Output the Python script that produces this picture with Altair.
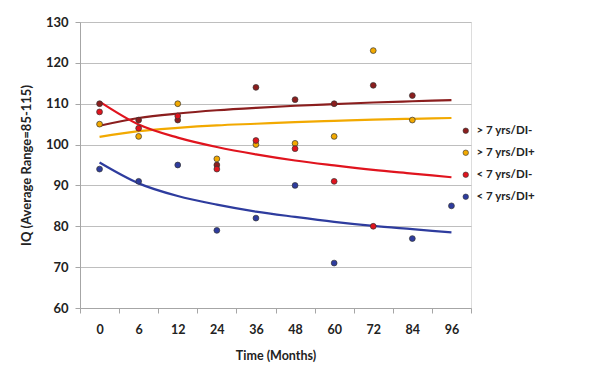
import altair as alt
import pandas as pd

months = ["0", "6", "12", "24", "36", "48", "60", "72", "84", "96"]
series_names = ["> 7 yrs/DI-", "> 7 yrs/DI+", "< 7 yrs/DI-", "< 7 yrs/DI+"]
colors = ["#8B1E1E", "#F2A900", "#E0141E", "#2E3C9E"]

# observed points (None = no point)
pts_old_neg = [110, 106, 106, 95, 114, 111, 110, 114.5, 112, None]
pts_old_pos = [105, 102, 110, 96.5, 100, 100.3, 102, 123, 106, None]
pts_young_neg = [108, 104, 107, 94, 101, 99, 91, 80, None, None]
pts_young_pos = [94, 91, 95, 79, 82, 90, 71, None, 77, 85]

# trend curves at each category
trend_old_neg = [104.6, 106.5, 107.6, 108.4, 109.0, 109.5, 109.9, 110.3, 110.6, 110.9]
trend_old_pos = [101.9, 103.3, 104.1, 104.7, 105.1, 105.5, 105.8, 106.1, 106.3, 106.5]
trend_young_neg = [110.5, 104.9, 101.7, 99.4, 97.6, 96.1, 94.9, 93.8, 92.9, 92.0]
trend_young_pos = [95.6, 90.5, 87.4, 85.3, 83.6, 82.3, 81.1, 80.1, 79.3, 78.5]

pts_all = [pts_old_neg, pts_old_pos, pts_young_neg, pts_young_pos]
trends_all = [trend_old_neg, trend_old_pos, trend_young_neg, trend_young_pos]

prow, trow = [], []
for s, name in enumerate(series_names):
    for i, m in enumerate(months):
        v = pts_all[s][i]
        if v is not None:
            prow.append({"month": m, "iq": v, "series": name, "order": s})
        trow.append({"month": m, "iq": trends_all[s][i], "trend": name})
pdf = pd.DataFrame(prow)
tdf = pd.DataFrame(trow)

FONT = "Lato"
xenc = alt.X("month:N", sort=months,
             scale=alt.Scale(paddingInner=0, paddingOuter=0),
             axis=alt.Axis(title="Time (Months)", labelAngle=0, tickBand="extent",
                           domainColor="#A6A6A6", tickColor="#A6A6A6", tickSize=5,
                           labelFont=FONT, labelFontSize=12.5, labelFontWeight="bold",
                           labelColor="#222", labelPadding=10,
                           titleFont=FONT, titleFontSize=12.5, titleFontWeight="bold",
                           titleColor="#222", titlePadding=14, grid=False))
yenc = alt.Y("iq:Q", scale=alt.Scale(domain=[60, 130], nice=False, zero=False),
             axis=alt.Axis(title="IQ (Average Range=85-115)", values=list(range(60, 131, 10)),
                           domainColor="#A6A6A6", tickColor="#A6A6A6", tickSize=5,
                           gridColor="#BEBEBE", gridWidth=1.2,
                           labelFont=FONT, labelFontSize=13, labelFontWeight="bold",
                           labelColor="#222", labelPadding=7,
                           titleFont=FONT, titleFontSize=13, titleFontWeight="bold",
                           titleColor="#222", titlePadding=12))

lines = alt.Chart(tdf).mark_line(strokeWidth=2.2, interpolate="monotone").encode(
    x=xenc, y=yenc,
    stroke=alt.Stroke("trend:N", scale=alt.Scale(domain=series_names, range=colors), legend=None),
    detail="trend:N",
)

points = alt.Chart(pdf).mark_point(filled=True, size=34, stroke="#333", strokeWidth=0.7, opacity=1).encode(
    x=xenc, y=yenc,
    fill=alt.Fill("series:N", scale=alt.Scale(domain=series_names, range=colors),
                  legend=alt.Legend(title=None, orient="none", legendX=380, legendY=103,
                                    symbolType="circle", symbolSize=30,
                                    symbolStrokeColor="#333", symbolStrokeWidth=0.6,
                                    labelFont=FONT, labelFontSize=11.5, labelFontWeight="bold",
                                    labelColor="#222", rowPadding=9, labelOffset=5)),
    order="order:Q",
)

chart = alt.layer(lines, points).resolve_scale(fill="independent", stroke="independent").properties(
    width=391, height=286,
    autosize=alt.AutoSizeParams(type="none"),
    padding={"left": 72, "top": 14, "right": 121, "bottom": 57},
).configure_view(stroke=None).configure(background="white")

chart.save("out.html", embed_options={"renderer": "svg", "actions": False})
